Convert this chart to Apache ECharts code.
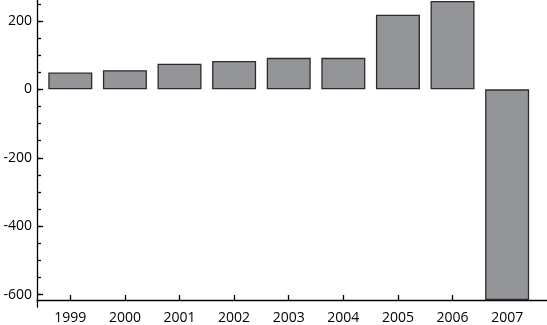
<!DOCTYPE html>
<html>
<head>
<meta charset="utf-8">
<script src="https://cdn.jsdelivr.net/npm/echarts@6/dist/echarts.min.js"></script>
<style>
  html, body { margin: 0; padding: 0; background: #fff; }
  #main { width: 547px; height: 325px; }
</style>
</head>
<body>
<div id="main"></div>
<script>
// data
var years = [1999, 2000, 2001, 2002, 2003, 2004, 2005, 2006, 2007];
var values = [49, 56, 75, 83, 92, 92, 218, 258, -616];
var yMajorTicks = [-600, -400, -200, 0, 200];
var yMinorTicks = [-600, -550, -500, -450, -400, -350, -300, -250, -200, -150, -100, -50, 0, 50, 100, 150, 200, 250];

var barData = [];
for (var i = 0; i < years.length; i++) {
	barData.push([years[i], values[i]]);
}

var chart = echarts.init(document.getElementById('main'));
chart.setOption({
	animation: false,
	textStyle: { fontFamily: 'Open Sans' },
	grid: { left: 37, right: 0, top: 0, bottom: 15 },
	xAxis: {
		type: 'value',
		min: 1998.39,
		max: 2007.73,
		offset: -7,
		axisLine: { onZero: false, lineStyle: { color: '#000', width: 1.3 } },
		axisTick: { inside: true, length: 5, customValues: years, lineStyle: { color: '#000', width: 1.3 } },
		axisLabel: {
			customValues: years,
			margin: 11,
			color: '#000',
			fontSize: 14,
			formatter: function (v) { return String(v); }
		},
		splitLine: { show: false }
	},
	yAxis: [
		{
			type: 'value',
			min: -636,
			max: 261,
			axisLine: { show: true, lineStyle: { color: '#000', width: 1.3 } },
			axisTick: { show: true, inside: true, length: 6, customValues: yMajorTicks, lineStyle: { color: '#000', width: 1.3 } },
			axisLabel: { customValues: yMajorTicks, margin: 5, color: '#000', fontSize: 14 },
			splitLine: { show: false }
		},
		{
			type: 'value',
			position: 'left',
			min: -636,
			max: 261,
			axisLine: { show: false },
			axisTick: { show: true, inside: true, length: 4, customValues: yMinorTicks, lineStyle: { color: '#000', width: 1.3 } },
			axisLabel: { show: false },
			splitLine: { show: false }
		}
	],
	series: [{
		type: 'bar',
		data: barData,
		barWidth: 44,
		itemStyle: { color: '#939598', borderColor: '#2b2b2b', borderWidth: 1.3 }
	}]
});
</script>
</body>
</html>
